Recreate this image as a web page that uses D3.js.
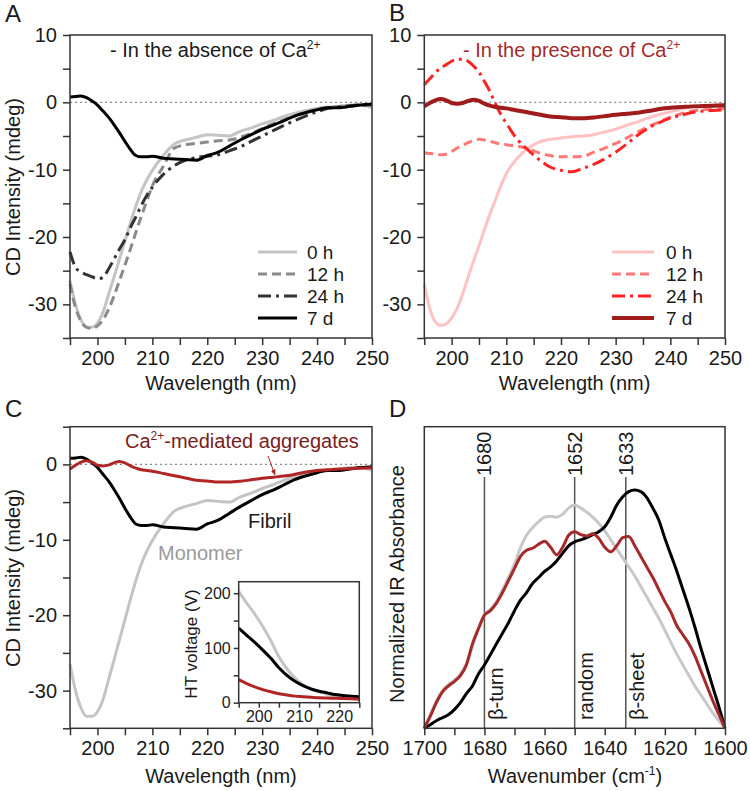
<!DOCTYPE html>
<html><head><meta charset="utf-8">
<script src="https://cdn.jsdelivr.net/npm/d3@7"></script>
<style>body{margin:0;background:#fff}svg{display:block}</style>
</head><body>
<svg id="c" width="750" height="791"></svg>
<script>
// ---------- data ----------
const wl = [195,196,197,198,199,200,201,202,203,204,205,206,207,208,209,210,212,214,216,218,220,222,224,226,228,230,232,234,236,238,240,242,244,246,248,250];
// Panel A (no Ca2+)
const a0h  = [-26.5,-30,-32.3,-33.4,-33.4,-32.8,-31.2,-28.6,-26,-23.3,-20.6,-17.9,-15.4,-13.2,-11.5,-10.1,-7.9,-6.2,-5.6,-5.2,-4.8,-4.9,-5.0,-4.3,-3.8,-3.2,-2.7,-2.1,-1.6,-1.2,-0.9,-0.7,-0.6,-0.4,-0.4,-0.8];
const a12h = [-27,-30.5,-32.5,-33.4,-33.6,-33.2,-32.3,-30.8,-28.8,-26.5,-24.2,-21.8,-19.3,-16.9,-14.6,-12.4,-9.5,-6.8,-6.3,-6.1,-5.9,-5.7,-5.6,-5.2,-4.6,-3.9,-3.2,-2.6,-2.0,-1.5,-1.1,-0.8,-0.6,-0.5,-0.4,-0.5];
const a24h = [-22.2,-24.5,-25.2,-25.6,-25.9,-26.2,-26,-24.8,-23.3,-21.8,-20.4,-18.6,-17,-15.3,-13.8,-12.6,-10.7,-9.4,-8.6,-8.2,-8.0,-7.8,-7.2,-6.6,-5.8,-5.0,-4.2,-3.4,-2.7,-2.0,-1.4,-0.9,-0.7,-0.5,-0.4,-0.4];
const a7d  = [0.8,0.85,0.95,0.7,0.2,-0.4,-1.3,-2.2,-3.3,-4.5,-5.8,-7.0,-7.9,-8.1,-8.1,-8.0,-8.3,-8.4,-8.5,-8.6,-7.9,-7.4,-6.5,-5.6,-4.8,-4.0,-3.4,-2.7,-2.0,-1.5,-1.1,-0.8,-0.8,-0.6,-0.4,-0.3];
// Panel B (with Ca2+)
const b0h  = [-27,-30.6,-32.6,-33.1,-32.9,-32,-30.6,-28.5,-26,-23.6,-21.3,-18.9,-16.6,-14.5,-12.4,-10.6,-8.3,-6.8,-5.9,-5.5,-5.3,-5.1,-5.0,-4.8,-4.4,-4.0,-3.4,-2.9,-2.3,-1.8,-1.4,-1.0,-0.7,-0.5,-0.4,-0.3];
const b12h = [-7.5,-7.6,-7.7,-7.8,-7.7,-7.3,-6.8,-6.4,-6.0,-5.7,-5.5,-5.6,-5.8,-6.0,-6.2,-6.3,-6.5,-6.9,-7.5,-7.9,-8.1,-8.1,-8.05,-7.4,-6.8,-6.1,-5.3,-4.4,-3.6,-2.9,-2.2,-1.7,-1.3,-1.1,-1.0,-0.9];
const b24h = [2.6,3.5,4.4,5.1,5.6,6.1,6.4,6.4,6.1,5.4,4.5,3.1,1.6,-0.2,-1.8,-3.1,-5.5,-7.1,-8.5,-9.6,-10.1,-10.3,-9.8,-9.2,-8.4,-7.4,-6.2,-4.9,-3.8,-3.0,-2.35,-1.9,-1.5,-1.3,-1.2,-1.1];
const b7d  = [-0.6,-0.1,0.3,0.5,0.3,-0.1,-0.2,-0.1,0.2,0.4,0.2,-0.2,-0.5,-0.7,-0.8,-0.9,-1.2,-1.5,-1.8,-2.1,-2.2,-2.35,-2.35,-2.25,-2.05,-1.85,-1.7,-1.55,-1.3,-1.0,-0.8,-0.7,-0.6,-0.55,-0.5,-0.45];
const timeLabels = ['0 h','12 h','24 h','7 d'];
// Panel C inset (HT voltage)
const iw     = [195,197,199,201,203,205,207,209,211,213,215,217,219,221,223,225];
const htMono = [203,182,162,139,113,84,62,45,33,25,20,15,12,10,8,7];
const htFib  = [136,123,110,96,81,64,50,39,31,25,21,18,15,13,12,11];
const htAgg  = [42,35,29,24,20,16.5,14,12,11,10,9,8.5,8,7.5,7,6.5];
// Panel D (FTIR)
const wn = [1700,1698,1696,1694,1692,1690,1688,1686,1684,1682,1680,1678,1676,1674,1672,1670,1668,1666,1664,1662,1660,1658,1656,1654,1652,1650,1648,1646,1644,1642,1640,1638,1636,1634,1632,1630,1628,1626,1624,1622,1620,1618,1616,1614,1612,1610,1608,1606,1604,1602,1600];
const irMono = [0,0.045,0.09,0.125,0.145,0.16,0.18,0.215,0.27,0.33,0.375,0.395,0.42,0.46,0.50,0.545,0.60,0.64,0.665,0.685,0.70,0.703,0.70,0.71,0.73,0.74,0.73,0.717,0.70,0.68,0.655,0.625,0.595,0.565,0.535,0.505,0.47,0.435,0.40,0.365,0.325,0.285,0.245,0.21,0.175,0.14,0.11,0.08,0.05,0.025,0];
const irAgg  = [0,0.04,0.085,0.12,0.14,0.155,0.175,0.21,0.28,0.33,0.375,0.39,0.415,0.45,0.49,0.53,0.57,0.59,0.597,0.61,0.62,0.60,0.575,0.60,0.64,0.652,0.642,0.638,0.645,0.63,0.60,0.585,0.605,0.632,0.636,0.605,0.57,0.535,0.50,0.46,0.42,0.385,0.34,0.31,0.28,0.24,0.19,0.14,0.09,0.045,0];
const irFib  = [0,0.012,0.025,0.035,0.045,0.062,0.085,0.115,0.14,0.18,0.21,0.245,0.28,0.315,0.35,0.39,0.425,0.45,0.48,0.5,0.52,0.535,0.555,0.58,0.605,0.618,0.625,0.632,0.642,0.652,0.668,0.70,0.74,0.768,0.785,0.79,0.785,0.765,0.73,0.69,0.63,0.575,0.52,0.46,0.40,0.335,0.265,0.2,0.135,0.07,0];
const bandPos    = [1680, 1650, 1633];
const bandLabels = ['1680','1652','1633'];
const bandNames  = ['\u03b2-turn','random','\u03b2-sheet'];

// ---------- drawing ----------
const FONT = '"Liberation Sans", Arial, Helvetica, sans-serif';
const AX = '#333';
const svg = d3.select('#c');
const zip = (xs, ys) => xs.map((x, i) => [x, ys[i]]);

function styleAxis(g, fs) {
  g.attr('font-family', FONT).attr('font-size', fs);
  g.selectAll('.domain').remove();
  g.selectAll('line').attr('stroke', AX).attr('stroke-width', 1.5);
  g.selectAll('text').attr('fill', '#1a1a1a');
}
function axes(x, y, xt, xl, yt, yl, fs, ts, pad) {
  const gx = svg.append('g').attr('transform', `translate(0,${y.range()[0]})`)
    .call(d3.axisBottom(x).tickValues(xt).tickFormat(d => xl.includes(d) ? String(d) : '').tickSize(ts).tickPadding(pad));
  styleAxis(gx, fs);
  if (yt) {
    const gy = svg.append('g').attr('transform', `translate(${x.range()[0]},0)`)
      .call(d3.axisLeft(y).tickValues(yt).tickFormat(d => yl.includes(d) ? String(d) : '').tickSize(ts).tickPadding(pad));
    styleAxis(gy, fs);
  }
}
function frame(x, y) {
  const [x0, x1] = x.range(), [y1, y0] = y.range();
  svg.append('rect').attr('x', Math.min(x0,x1)).attr('y', y0).attr('width', Math.abs(x1 - x0)).attr('height', y1 - y0)
    .attr('fill', 'none').attr('stroke', AX).attr('stroke-width', 1.5);
}
function zero(x, y) {
  svg.append('line').attr('x1', x.range()[0]).attr('x2', x.range()[1]).attr('y1', y(0)).attr('y2', y(0))
    .attr('stroke', '#8a8a8a').attr('stroke-width', 1.3).attr('stroke-dasharray', '2,3');
}
function curve(x, y, data, color, w, dash) {
  const line = d3.line().x(d => x(d[0])).y(d => y(d[1])).curve(d3.curveMonotoneX);
  svg.append('path').attr('d', line(data)).attr('fill', 'none').attr('stroke', color)
    .attr('stroke-width', w).attr('stroke-linejoin', 'round').attr('stroke-dasharray', dash || null);
}
function text(x, y, str, fs, color, anchor, rot) {
  const t = svg.append('text').attr('font-family', FONT).attr('font-size', fs).attr('fill', color || '#1a1a1a')
    .attr('text-anchor', anchor || 'start')
    .attr('transform', rot ? `translate(${x},${y}) rotate(${rot})` : `translate(${x},${y})`);
  t.text(str);
  return t;
}
function caText(x, y, pre, post, fs, color) {
  const t = svg.append('text').attr('font-family', FONT).attr('font-size', fs).attr('fill', color).attr('x', x).attr('y', y);
  t.append('tspan').text(pre + 'Ca');
  t.append('tspan').attr('font-size', fs * 0.6).attr('dy', -fs * 0.42).text('2+');
  if (post) t.append('tspan').attr('dy', fs * 0.42).text(post);
  return t;
}
function legend(x0, x1, tx, ys, styles) {
  styles.forEach((s, i) => {
    svg.append('line').attr('x1', x0).attr('x2', x1).attr('y1', ys[i]).attr('y2', ys[i])
      .attr('stroke', s.c).attr('stroke-width', s.w).attr('stroke-dasharray', s.d || null);
    text(tx, ys[i] + 7, timeLabels[i], 19);
  });
}

const wlTicks = [195,200,205,210,215,220,225,230,235,240,245,250];
const wlLabs = [200,210,220,230,240,250];
const DASH = '9,5', DASHDOT = '13,5,3,5';

// Panel A
{
  const x = d3.scaleLinear().domain([195, 250]).range([70, 372]);
  const y = d3.scaleLinear().domain([-35, 10]).range([338, 35]);
  axes(x, y, wlTicks, wlLabs, [-35,-30,-25,-20,-15,-10,-5,0,5,10], [-30,-20,-10,0,10], 20, 7, 6);
  zero(x, y);
  const st = [{c:'#c4c4c4', w:3}, {c:'#8a8a8a', w:3, d:DASH}, {c:'#333333', w:3, d:DASHDOT}, {c:'#000', w:3}];
  [a0h, a12h, a24h, a7d].forEach((s, i) => curve(x, y, zip(wl, s), st[i].c, st[i].w, st[i].d));
  frame(x, y);
  legend(258, 297, 307, [252, 274, 296, 318], st);
  caText(110, 57, '- In the absence of ', null, 20, '#1a1a1a');
  text(221, 390, 'Wavelength (nm)', 20, null, 'middle');
  text(20, 187, 'CD Intensity (mdeg)', 20, null, 'middle', -90);
  text(5, 22, 'A', 24);
}
// Panel B
{
  const x = d3.scaleLinear().domain([195, 250]).range([424.3, 725]);
  const y = d3.scaleLinear().domain([-35, 10]).range([338, 35]);
  axes(x, y, wlTicks, wlLabs, [-35,-30,-25,-20,-15,-10,-5,0,5,10], [-30,-20,-10,0,10], 20, 7, 6);
  zero(x, y);
  const st = [{c:'#ffc2c2', w:3}, {c:'#ff7878', w:3, d:DASH}, {c:'#ff2222', w:3, d:DASHDOT}, {c:'#a01c1c', w:4}];
  [b0h, b12h, b24h, b7d].forEach((s, i) => curve(x, y, zip(wl, s), st[i].c, st[i].w, st[i].d));
  frame(x, y);
  legend(612, 654, 666, [252, 274, 296, 318], st);
  caText(463, 57, '- In the presence of ', null, 20, '#a52a2a');
  text(574.6, 390, 'Wavelength (nm)', 20, null, 'middle');
  text(389, 21, 'B', 24);
}
// Panel C
{
  const x = d3.scaleLinear().domain([195, 250]).range([70, 372]);
  const y = d3.scaleLinear().domain([-35, 5]).range([728.3, 426.7]);
  axes(x, y, wlTicks, wlLabs, [-35,-30,-25,-20,-15,-10,-5,0,5], [-30,-20,-10,0], 20, 7, 6);
  zero(x, y);
  curve(x, y, zip(wl, a0h), '#c4c4c4', 3);
  curve(x, y, zip(wl, a7d), '#000', 3);
  curve(x, y, zip(wl, b7d), '#b02525', 3);
  frame(x, y);
  caText(125, 448, '', '-mediated aggregates', 20, '#7a1c1c');
  svg.append('defs').append('marker').attr('id', 'arr').attr('viewBox', '0 0 10 10').attr('refX', 9).attr('refY', 5)
    .attr('markerWidth', 6).attr('markerHeight', 6).attr('orient', 'auto')
    .append('path').attr('d', 'M0,1 L10,5 L0,9 Z').attr('fill', '#b02525');
  svg.append('line').attr('x1', 268).attr('y1', 456).attr('x2', 275).attr('y2', 475)
    .attr('stroke', '#b02525').attr('stroke-width', 1).attr('marker-end', 'url(#arr)');
  text(248, 528, 'Fibril', 20);
  text(158, 560, 'Monomer', 20, '#9a9a9a');
  text(221, 783, 'Wavelength (nm)', 20, null, 'middle');
  text(20, 578, 'CD Intensity (mdeg)', 20, null, 'middle', -90);
  text(5, 417, 'C', 24);

  // inset
  const ix = d3.scaleLinear().domain([195, 225]).range([238.7, 359.3]);
  const iy = d3.scaleLinear().domain([0, 221]).range([702.7, 581.7]);
  svg.append('rect').attr('x', 238.7).attr('y', 581.7).attr('width', 120.6).attr('height', 121).attr('fill', '#fff');
  axes(ix, iy, [195,200,205,210,215,220,225], [200,210,220], [0,50,100,150,200], [0,100,200], 16, 5, 3);
  curve(ix, iy, zip(iw, htMono), '#c4c4c4', 3);
  curve(ix, iy, zip(iw, htFib), '#000', 3);
  curve(ix, iy, zip(iw, htAgg), '#b02525', 3);
  frame(ix, iy);
  text(197, 644, 'HT voltage (V)', 17, null, 'middle', -90);
}
// Panel D
{
  const x = d3.scaleLinear().domain([1700, 1600]).range([424.3, 725]);
  const y = d3.scaleLinear().domain([0, 1]).range([728.3, 426.7]);
  axes(x, y, [1700,1690,1680,1670,1660,1650,1640,1630,1620,1610,1600], [1700,1680,1660,1640,1620,1600], null, null, 20, 7, 6);
  bandPos.forEach((b, i) => {
    svg.append('line').attr('x1', x(b)).attr('x2', x(b)).attr('y1', 477).attr('y2', 728.3)
      .attr('stroke', '#555').attr('stroke-width', 1.5);
    text(x(b) + 7, 476, bandLabels[i], 20, null, 'start', -90);
    text(x(b) + 18.5, 720, bandNames[i], 20, null, 'start', -90);
  });
  curve(x, y, zip(wn, irMono), '#c8c8c8', 3);
  curve(x, y, zip(wn, irFib), '#000', 3);
  curve(x, y, zip(wn, irAgg), '#a52a2a', 3);
  frame(x, y);
  const t = svg.append('text').attr('font-family', FONT).attr('font-size', 20).attr('fill', '#1a1a1a')
    .attr('text-anchor', 'middle').attr('x', 575).attr('y', 783);
  t.append('tspan').text('Wavenumber (cm');
  t.append('tspan').attr('font-size', 12).attr('dy', -8).text('-1');
  t.append('tspan').attr('dy', 8).text(')');
  text(404, 584, 'Normalized IR Absorbance', 20, null, 'middle', -90);
  text(389, 417, 'D', 24);
}
</script></body></html>
